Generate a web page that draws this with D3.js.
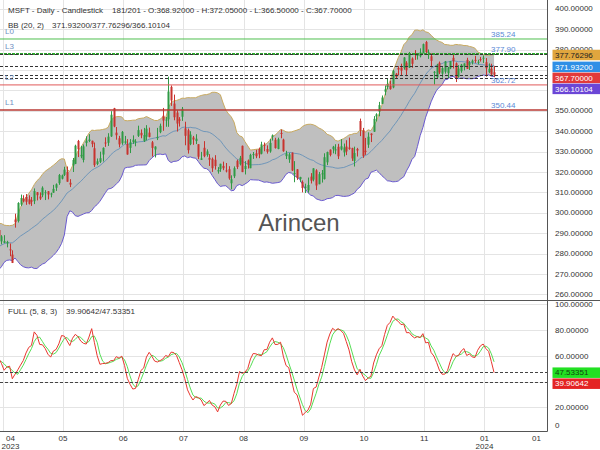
<!DOCTYPE html>
<html><head><meta charset="utf-8">
<script src="https://cdn.jsdelivr.net/npm/d3@7"></script>
<style>
html,body{margin:0;padding:0;background:#fff;}
svg{display:block;font-family:"Liberation Sans",Arial,sans-serif;}
</style></head><body>
<svg id="c" width="600" height="450"></svg>
<script>
// ---- Daily OHLC, 2023-03-20 .. 2024-01-05 (first 21 bars only feed the indicators) ----
const open = [
276.98,274.88,273.40,277.94,277.24,280.50,275.79,278.96,284.23,283.73,
286.52,287.23,285.85,283.21,289.21,285.75,284.79,283.59,287.00,289.93,
291.57,285.99,285.25,285.01,282.09,279.51,296.70,295.97,304.01,
306.97,307.76,306.62,306.24,305.72,310.13,308.00,308.62,310.10,310.55,309.10,309.83,312.29,314.53,316.74,318.60,320.03,314.73,323.24,324.02,335.23,327.71,
325.93,334.25,335.22,335.33,331.65,323.94,324.99,328.58,334.47,334.34,337.48,351.32,339.31,336.55,334.12,334.36,333.72,331.86,334.66,334.71,337.75,
339.19,335.09,337.30,339.32,334.60,331.06,336.60,339.56,347.59,345.68,345.83,361.75,353.57,349.15,345.85,347.11,341.44,340.48,333.67,336.92,
335.19,333.63,326.00,331.88,328.37,326.96,326.47,326.02,320.26,321.39,323.00,320.80,321.39,314.49,317.93,325.50,323.82,332.85,321.47,325.66,321.88,328.67,329.20,
331.31,329.00,333.38,331.29,330.09,337.24,335.82,331.31,339.15,335.90,327.80,326.17,329.51,319.26,321.32,316.59,315.13,312.30,310.99,317.75,
316.28,320.83,314.03,319.09,316.55,324.75,330.96,331.21,330.57,332.38,331.05,329.59,332.49,332.03,331.72,325.47,331.30,345.02,340.54,330.43,333.41,338.85,
339.79,347.24,349.63,353.45,359.40,361.68,362.30,361.49,368.22,371.01,371.27,370.96,373.61,371.22,375.67,378.00,377.33,376.78,378.35,383.76,378.49,
376.76,369.10,366.45,373.54,368.23,369.20,368.48,370.85,376.02,373.31,366.85,369.45,371.49,375.00,372.56,373.68,375.00,373.69,375.37,376.00,
373.86,369.01,370.67,368.92];
const high = [
277.48,275.00,281.04,281.06,280.63,281.46,276.14,281.14,284.46,289.27,
288.27,290.45,287.15,292.08,289.60,285.98,287.01,289.90,288.48,291.60,
291.76,289.05,289.03,286.27,284.95,281.60,299.57,305.20,308.93,
308.60,309.18,308.61,307.76,311.97,310.20,310.04,313.00,311.12,310.65,309.90,313.71,314.43,319.04,318.75,322.59,322.72,316.50,326.90,333.40,335.74,332.77,
333.53,337.50,338.56,335.37,334.49,326.64,329.99,332.10,336.99,339.04,349.84,351.47,342.08,337.73,340.12,337.70,336.11,336.15,337.98,336.11,342.73,
340.90,341.65,342.99,341.79,335.23,332.64,341.65,343.74,351.43,346.99,366.78,362.46,357.97,350.30,346.92,351.89,344.67,341.33,340.01,337.70,
338.54,333.63,329.88,335.14,331.11,328.75,327.11,328.26,322.41,324.06,325.10,324.42,322.87,318.38,322.77,326.08,327.90,332.98,325.36,326.15,328.98,329.81,330.91,
331.99,334.85,334.46,333.08,336.16,338.42,336.79,336.85,340.86,336.34,330.40,329.39,329.59,325.35,321.45,317.67,315.88,314.30,317.29,319.47,
321.89,321.39,320.04,320.99,329.19,330.00,331.10,332.82,333.63,333.83,336.14,333.96,335.59,336.88,331.92,332.45,331.84,346.20,341.63,336.72,339.45,339.00,
347.42,348.83,354.39,357.54,362.46,365.87,364.79,370.10,368.47,371.95,373.13,376.35,374.37,378.87,376.22,379.79,377.97,380.64,383.00,384.30,380.09,
378.16,369.52,373.08,374.18,371.45,374.46,371.60,374.42,377.64,373.76,372.40,373.00,373.26,376.03,374.41,375.18,376.94,375.06,376.46,377.16,
375.90,373.26,373.10,372.05];
const low = [
269.85,269.52,272.18,275.20,275.28,275.52,272.05,278.41,281.48,283.00,
283.95,285.67,282.92,282.03,284.71,281.64,281.96,283.17,283.69,286.16,
287.01,284.54,285.08,283.06,278.72,275.37,292.73,295.25,303.31,
305.15,303.91,304.09,303.40,304.27,306.09,306.31,307.67,306.26,306.60,307.59,309.83,310.74,313.72,316.37,318.01,315.25,312.61,320.00,323.88,327.33,326.76,
324.72,332.55,334.66,332.17,322.50,323.35,324.41,325.16,332.33,332.81,337.20,341.95,335.86,332.07,333.34,333.81,328.49,329.30,333.81,332.62,337.20,
336.57,334.73,335.50,337.00,327.59,327.16,335.67,339.02,340.22,342.20,342.17,352.44,345.37,339.83,342.31,345.07,333.11,329.05,333.17,333.36,
333.70,326.36,325.95,327.24,327.52,323.00,320.05,321.18,319.21,320.08,320.90,319.80,316.22,311.55,317.04,321.46,323.23,319.96,318.80,321.72,321.88,326.45,326.78,
326.78,328.66,330.18,329.03,329.46,335.43,331.48,331.17,336.57,329.92,326.36,324.51,320.51,315.00,316.15,315.00,310.02,309.69,309.85,314.38,
315.42,311.21,314.00,314.83,316.30,323.38,327.67,329.14,328.72,326.36,330.60,327.60,328.30,330.91,325.45,322.70,327.60,337.62,326.94,328.40,331.83,334.69,
339.65,344.77,347.33,353.35,357.63,360.54,360.36,361.07,365.90,367.35,367.11,370.18,367.00,371.00,371.12,374.97,375.14,376.20,378.16,377.44,375.47,
371.31,362.90,365.62,368.03,366.32,368.23,366.10,370.46,370.77,364.13,366.28,368.68,369.84,370.53,370.04,372.71,373.50,372.81,374.16,373.48,
366.77,368.51,367.17,366.50];
const close = [
272.23,273.78,272.29,277.66,280.57,276.38,275.23,280.51,284.05,288.30,
287.23,287.18,284.34,291.60,289.39,282.83,283.49,289.84,286.14,288.80,
288.37,288.45,286.11,285.76,281.77,275.42,295.37,304.83,307.26,
305.56,305.41,304.40,305.41,310.65,308.65,307.00,312.31,310.11,308.97,309.46,311.74,314.00,318.52,318.34,321.18,315.26,313.85,325.92,332.89,331.21,328.39,
332.58,335.40,335.94,333.68,323.38,325.26,326.79,331.85,334.29,337.34,348.10,342.33,338.05,333.56,339.71,335.02,328.60,334.57,335.85,335.05,340.54,
337.99,338.15,341.27,337.22,331.83,332.47,337.20,342.66,345.24,345.73,359.49,355.08,346.87,343.77,345.11,350.98,337.77,330.72,338.37,335.92,
336.34,327.50,326.66,327.78,330.11,326.05,321.86,322.93,321.01,324.04,321.86,320.40,316.88,316.48,321.88,322.46,327.00,319.97,322.98,323.70,328.41,328.79,327.76,
328.66,333.55,332.88,329.91,334.27,337.94,331.77,336.06,338.70,330.22,329.06,328.65,320.77,319.53,317.01,317.54,312.14,312.79,313.64,315.75,
321.80,313.39,318.96,319.36,327.26,329.82,328.39,332.42,331.16,327.73,332.64,332.06,330.11,331.32,326.67,329.32,330.53,340.67,327.89,329.81,337.31,338.11,
346.07,348.32,352.80,356.53,360.53,363.20,360.69,369.67,366.68,370.27,369.67,376.17,369.85,377.44,373.07,377.85,377.43,378.61,382.70,378.85,378.91,
374.51,369.14,372.52,368.80,370.95,374.23,371.30,374.38,374.37,365.93,370.73,372.65,373.26,370.62,373.54,374.58,374.66,374.07,375.28,376.04,
370.87,370.60,367.94,367.70];

const firstVisible = 21;          // array index of the first bar in view (2023-04-19)
const visibleBars = 181, totalSlots = 201;

// x-axis ticks (bar slots) and labels
const xTickSlots  = [1, 23, 45, 67, 89, 111, 133, 155, 177, 196];
const xTickLabels = ["04","05","06","07","08","09","10","11","01","01"];
const xTickYears  = ["2023","","","","","","","","2024",""];
const xGridSlots  = [1, 23, 45, 67, 89, 111, 133, 155, 177];

const priceTicks = [260,270,280,290,300,310,320,330,340,350,360,370,380,390,400];
const oscTicks = [0,20,40,60,80,100];

const levelNames  = ["L0","L3","L2","L1"];
const levelValues = [385.24, 377.90, 362.72, 350.44];

const ohlcReadout  = [368.92, 372.05, 366.50, 367.70];
const bbReadout    = [371.93200, 377.76296, 366.10104]; // mid / upper / lower
const stochReadout = [39.90642, 47.53351];              // %K / %D
const bbParams = [20, 2], stochParams = [5, 8, 3];

// ---------------- layout ----------------
const svg = d3.select("#c");
const plotR = 547.5, mainTop = 0, mainBot = 300.5, lowBot = 431.5;
const x = d3.scaleLinear().domain([0, 200.2]).range([0, 548]);
const yM = d3.scaleLinear().domain([257, 404.36]).range([mainBot, mainTop]);
const yL = d3.scaleLinear().domain([1.2, 103.1]).range([lowBot, mainBot]);

const n = close.length;
const bars = d3.range(n).map(i => ({
  i, slot: i - firstVisible,
  o: open[i], c: close[i],
  h: Math.max(high[i], open[i], close[i]),
  l: Math.min(low[i], open[i], close[i])
}));

// Bollinger (20,2)
const bb = [];
for (let i = bbParams[0]-1; i < n; i++) {
  const w = close.slice(i-bbParams[0]+1, i+1);
  const m = d3.mean(w);
  const sd = Math.sqrt(d3.mean(w, v => (v-m)*(v-m)));
  bb.push({slot: i-firstVisible, m, u: m + bbParams[1]*sd, lo: m - bbParams[1]*sd});
}
// Full stochastic (5,8,3)
const [kLook, kSm, dSm] = stochParams;
const fastK = new Array(n).fill(null);
for (let i = kLook-1; i < n; i++) {
  const hh = d3.max(bars.slice(i-kLook+1, i+1), d => d.h);
  const ll = d3.min(bars.slice(i-kLook+1, i+1), d => d.l);
  fastK[i] = hh === ll ? 50 : 100*(close[i]-ll)/(hh-ll);
}
const K = new Array(n).fill(null), D = new Array(n).fill(null);
for (let i = kLook-1+kSm-1; i < n; i++) K[i] = d3.mean(fastK.slice(i-kSm+1, i+1));
for (let i = kLook-1+kSm-1+dSm-1; i < n; i++) D[i] = d3.mean(K.slice(i-dSm+1, i+1));
const kPts = d3.range(n).filter(i => K[i] !== null).map(i => ({slot: i-firstVisible, v: K[i]}));
const dPts = d3.range(n).filter(i => D[i] !== null).map(i => ({slot: i-firstVisible, v: D[i]}));

const defs = svg.append("defs");
defs.append("clipPath").attr("id","cm").append("rect").attr("x",0).attr("y",mainTop).attr("width",plotR).attr("height",mainBot-mainTop);
defs.append("clipPath").attr("id","cl").append("rect").attr("x",0).attr("y",mainBot).attr("width",plotR).attr("height",lowBot-mainBot);

const crisp = v => Math.round(v) + 0.5;
const grid = svg.append("g").attr("stroke","#e4e4e4").attr("stroke-width",1);
priceTicks.forEach(v => grid.append("line").attr("x1",0).attr("x2",plotR).attr("y1",crisp(yM(v))).attr("y2",crisp(yM(v))));
oscTicks.filter(v => yL(v) < lowBot && yL(v) > mainBot).forEach(v => grid.append("line").attr("x1",0).attr("x2",plotR).attr("y1",crisp(yL(v))).attr("y2",crisp(yL(v))));
xGridSlots.forEach(s => grid.append("line").attr("x1",crisp(x(s))).attr("x2",crisp(x(s))).attr("y1",0).attr("y2",lowBot));

// watermark
svg.append("text").attr("x",299).attr("y",231).attr("text-anchor","middle")
  .attr("font-size",24).attr("fill","#555").text("Arincen");

// ---------------- main panel ----------------
const gm = svg.append("g").attr("clip-path","url(#cm)");
const xc = d => x(d.slot + 0.5);
gm.append("path").datum(bb).attr("fill","#bfbfbf")
  .attr("d", d3.area().x(xc).y0(d => yM(d.lo)).y1(d => yM(d.u)));
gm.append("path").datum(bb).attr("fill","none").attr("stroke","#c9aa60").attr("stroke-width",1)
  .attr("d", d3.line().x(xc).y(d => yM(d.u)));
gm.append("path").datum(bb).attr("fill","none").attr("stroke","#6a5ad0").attr("stroke-width",1)
  .attr("d", d3.line().x(xc).y(d => yM(d.lo)));
gm.append("path").datum(bb).attr("fill","none").attr("stroke","#5b8cb8").attr("stroke-width",0.8)
  .attr("d", d3.line().x(xc).y(d => yM(d.m)));

const vis = bars.filter(d => d.slot >= -1);
const col = d => d.c >= d.o ? "#2f9a45" : "#c8332e";
gm.append("g").selectAll("line").data(vis).join("line")
  .attr("x1", d => Math.round(xc(d)) + 0.5).attr("x2", d => Math.round(xc(d)) + 0.5)
  .attr("y1", d => yM(d.h)).attr("y2", d => yM(d.l))
  .attr("stroke", col).attr("stroke-width", 1);
gm.append("g").selectAll("rect").data(vis).join("rect")
  .attr("x", d => Math.round(xc(d)) - 0.5).attr("width", 2)
  .attr("y", d => yM(Math.max(d.o, d.c)))
  .attr("height", d => Math.max(1, Math.abs(yM(d.o) - yM(d.c))))
  .attr("fill", col);

// level lines
const lvlStyle = {
  "L0": {stroke:"#4fbf4f", w:1, dash:null},
  "L3": {stroke:"#2ea32e", w:2, dash:"3,1"},
  "L2": {stroke:"#e05a5a", w:1, dash:null},
  "L1": {stroke:"#b83a34", w:1.5, dash:null}
};
levelNames.forEach((nm, k) => {
  const y = yM(levelValues[k]), s = lvlStyle[nm];
  svg.append("line").attr("x1",0).attr("x2",plotR).attr("y1",y).attr("y2",y)
    .attr("stroke",s.stroke).attr("stroke-width",s.w).attr("stroke-dasharray",s.dash);
});
// dashed value lines (BB & close)
[bbReadout[1], bbReadout[0], ohlcReadout[3], bbReadout[2]].forEach(v => {
  svg.append("line").attr("x1",0).attr("x2",plotR).attr("y1",crisp(yM(v))).attr("y2",crisp(yM(v)))
    .attr("stroke","#333").attr("stroke-width",1).attr("stroke-dasharray","3,2");
});
levelNames.forEach((nm, k) => {
  const y = yM(levelValues[k]);
  svg.append("text").attr("x",5).attr("y",y-5).attr("font-size",8).attr("fill","#6f90c2").text(nm);
  svg.append("text").attr("x",491).attr("y",y-2).attr("font-size",8).attr("fill","#5b89d6").text(levelValues[k].toFixed(2));
});

// ---------------- lower panel ----------------
const gl = svg.append("g").attr("clip-path","url(#cl)");
const xs = d => x(d.slot + 0.5);
gl.append("path").datum(dPts).attr("fill","none").attr("stroke","#55dd55").attr("stroke-width",1)
  .attr("d", d3.line().x(xs).y(d => yL(d.v)));
gl.append("path").datum(kPts).attr("fill","none").attr("stroke","#e8372f").attr("stroke-width",1)
  .attr("d", d3.line().x(xs).y(d => yL(d.v)));
[stochReadout[1], stochReadout[0]].forEach(v => {
  svg.append("line").attr("x1",0).attr("x2",plotR).attr("y1",crisp(yL(v))).attr("y2",crisp(yL(v)))
    .attr("stroke","#444").attr("stroke-width",1).attr("stroke-dasharray","3,2");
});

// ---------------- frame ----------------
svg.append("line").attr("x1",0).attr("x2",600).attr("y1",mainBot).attr("y2",mainBot).attr("stroke","#555");
svg.append("line").attr("x1",plotR).attr("x2",plotR).attr("y1",0).attr("y2",lowBot).attr("stroke","#555");
svg.append("line").attr("x1",0).attr("x2",plotR).attr("y1",lowBot).attr("y2",lowBot).attr("stroke","#555");

// value boxes (computed first so that fully covered tick labels are skipped)
function stack(list, scale) {
  let prev = -1e9;
  list.forEach(b => { b.cy = Math.max(scale(b.v) + 0.5, prev + 11); prev = b.cy; });
  return list;
}
const mainBoxes = stack([
  {v: bbReadout[1], bg:"#e0a63e", fg:"#222"},
  {v: bbReadout[0], bg:"#2f8fe6", fg:"#fff"},
  {v: ohlcReadout[3], bg:"#e23a3a", fg:"#fff"},
  {v: bbReadout[2], bg:"#6b46d6", fg:"#fff"}
], yM);
const lowBoxes = stack([
  {v: stochReadout[1], bg:"#22e022", fg:"#114411"},
  {v: stochReadout[0], bg:"#e42424", fg:"#fff"}
], yL);
const covered = (cy, list) => list.some(b => Math.abs(b.cy - cy) < 4.5);

// ---------------- axes text ----------------
const axT = svg.append("g").attr("font-size",8).attr("fill","#333");
priceTicks.forEach(v => {
  const cy = yM(v);
  if (covered(cy, mainBoxes)) return;
  axT.append("text").attr("x",555).attr("y",cy+2.6).text(v.toFixed(5));
});
oscTicks.forEach(v => {
  const cy = Math.min(Math.max(yL(v), mainBot+3), lowBot-6);
  if (covered(cy, lowBoxes)) return;
  axT.append("text").attr("x",555).attr("y",cy+2.6).text(v === 0 ? "0" : v.toFixed(5));
});
xTickSlots.forEach((s, k) => {
  const cx = Math.max(x(s), 10.5);
  axT.append("text").attr("x",cx).attr("y",440.5).attr("text-anchor","middle").text(xTickLabels[k]);
  if (xTickYears[k]) axT.append("text").attr("x",cx).attr("y",448.5).attr("text-anchor","middle").text(xTickYears[k]);
});

function drawBoxes(list) {
  list.forEach(b => {
    svg.append("rect").attr("x",552.5).attr("y",b.cy-5).attr("width",47.5).attr("height",10.5).attr("fill",b.bg);
    svg.append("text").attr("x",555).attr("y",b.cy+3).attr("font-size",8).attr("fill",b.fg).text(b.v.toFixed(5));
  });
}
drawBoxes(mainBoxes);
drawBoxes(lowBoxes);

// ---------------- titles ----------------
const f5 = v => v.toFixed(5);
const t1 = svg.append("text").attr("x",8).attr("y",13).attr("font-size",8).attr("fill","#333");
t1.append("tspan").text("MSFT - Daily - Candlestick");
t1.append("tspan").attr("dx",9).text(`${visibleBars}/${totalSlots} - O:${f5(ohlcReadout[0])} - H:${f5(ohlcReadout[1])} - L:${f5(ohlcReadout[2])} - C:${f5(ohlcReadout[3])}`);
const t2 = svg.append("text").attr("x",8).attr("y",27.5).attr("font-size",8).attr("fill","#333");
t2.append("tspan").text(`BB (${bbParams[0]}, ${bbParams[1]})`);
t2.append("tspan").attr("dx",8).text(`${f5(bbReadout[0])}/${f5(bbReadout[1])}/${f5(bbReadout[2])}`);
const t3 = svg.append("text").attr("x",8).attr("y",313.5).attr("font-size",8).attr("fill","#333");
t3.append("tspan").text(`FULL (${stochParams.join(", ")})`);
t3.append("tspan").attr("dx",9).text(`${f5(stochReadout[0])}/${f5(stochReadout[1])}`);
</script>
</body></html>
